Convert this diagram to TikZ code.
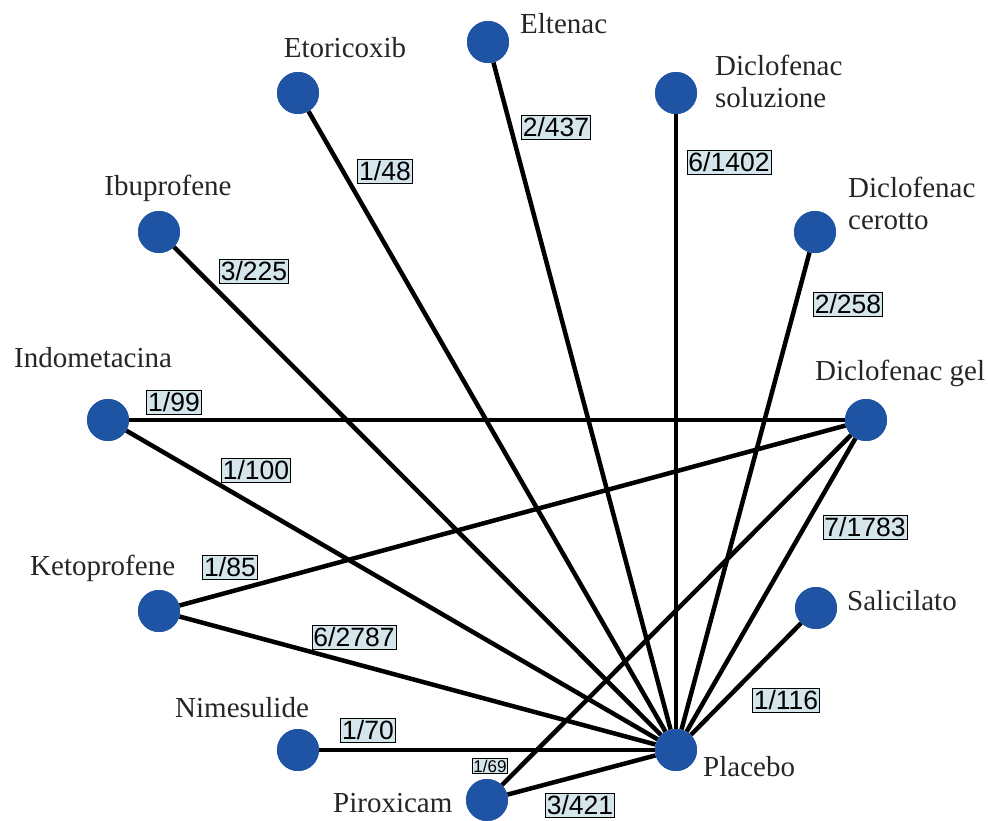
\documentclass[tikz,border=0pt]{standalone}
\usepackage{fontspec}
\setmainfont{Liberation Serif}
\newfontfamily\lblfont{Liberation Sans}
\definecolor{nodeblue}{RGB}{31,84,164}
\definecolor{boxfill}{RGB}{212,229,236}
\begin{document}
\begin{tikzpicture}[x=1pt,y=-1pt,
  drug/.style={circle,fill=nodeblue,minimum size=42pt,inner sep=0pt},
  link/.style={line width=4.5pt,black},
  nlabel/.style={font=\fontsize{29}{32}\selectfont,text=black!85,inner sep=0pt,align=left},
  elabel/.style={draw=black,line width=0.8pt,fill=boxfill,inner sep=1.5pt,font=\lblfont\fontsize{26.5}{26.5}\selectfont,text height=19.5pt,text depth=1.5pt},
  elabelsm/.style={elabel,font=\lblfont\fontsize{17}{17}\selectfont,text height=12.5pt,text depth=0.5pt,inner sep=1pt}]
\useasboundingbox (0,0) rectangle (988,820);
\fill[white] (0,0) rectangle (988,820);
% nodes
\node[drug] (eto) at (298,93) {};
\node[drug] (elt) at (488,42) {};
\node[drug] (dsol) at (676,93) {};
\node[drug] (dcer) at (815,232) {};
\node[drug] (dgel) at (866,420) {};
\node[drug] (ibu) at (159,232) {};
\node[drug] (ind) at (108,420) {};
\node[drug] (ket) at (159,611) {};
\node[drug] (nim) at (298,750) {};
\node[drug] (pla) at (676,750) {};
\node[drug] (pir) at (487,800) {};
\node[drug] (sal) at (816,608) {};
% edges
\draw[link] (eto) -- (pla);
\draw[link] (elt) -- (pla);
\draw[link] (dsol) -- (pla);
\draw[link] (dcer) -- (pla);
\draw[link] (ibu) -- (pla);
\draw[link] (ind) -- (pla);
\draw[link] (ind) -- (dgel);
\draw[link] (dgel) -- (pla);
\draw[link] (dgel) -- (ket);
\draw[link] (dgel) -- (pir);
\draw[link] (ket) -- (pla);
\draw[link] (nim) -- (pla);
\draw[link] (pir) -- (pla);
\draw[link] (sal) -- (pla);
% redraw node discs on top of the connector ends
\foreach \n in {eto,elt,dsol,dcer,dgel,ibu,ind,ket,nim,pla,pir,sal}
  \fill[nodeblue] (\n.center) circle (21pt);
% node labels
\node[nlabel,anchor=base] (teto) at (345,57) {Etoricoxib};
\node[nlabel,anchor=base west] (telt) at (520,33) {Eltenac};
\node[nlabel,anchor=base west] (tdsol) at (715,107) {Diclofenac\\soluzione};
\node[nlabel,anchor=base west] (tdcer) at (848,229) {Diclofenac\\cerotto};
\node[nlabel,anchor=base west] (tdgel) at (815,380) {Diclofenac gel};
\node[nlabel,anchor=base] (tibu) at (168,195) {Ibuprofene};
\node[nlabel,anchor=base west] (tind) at (14,367) {Indometacina};
\node[nlabel,anchor=base west] (tket) at (30,575) {Ketoprofene};
\node[nlabel,anchor=base west] (tnim) at (175,717) {Nimesulide};
\node[nlabel,anchor=base west] (tpla) at (703,776) {Placebo};
\node[nlabel,anchor=base west] (tpir) at (333,812) {Piroxicam};
\node[nlabel,anchor=base west] (tsal) at (847,610) {Salicilato};
% edge labels
\node[elabel] (l1) at (385,171) {1/48};
\node[elabel] (l2) at (556,127) {2/437};
\node[elabel] (l3) at (729,162) {6/1402};
\node[elabel] (l4) at (254,271) {3/225};
\node[elabel] (l5) at (848,304) {2/258};
\node[elabel] (l6) at (174,402) {1/99};
\node[elabel] (l7) at (256,470) {1/100};
\node[elabel] (l8) at (865,527) {7/1783};
\node[elabel] (l9) at (230,567) {1/85};
\node[elabel] (l10) at (354,637) {6/2787};
\node[elabel] (l11) at (368,730) {1/70};
\node[elabel] (l12) at (786,700) {1/116};
\node[elabelsm] (l13) at (490,766) {1/69};
\node[elabel] (l14) at (580,805) {3/421};
\end{tikzpicture}
\end{document}
